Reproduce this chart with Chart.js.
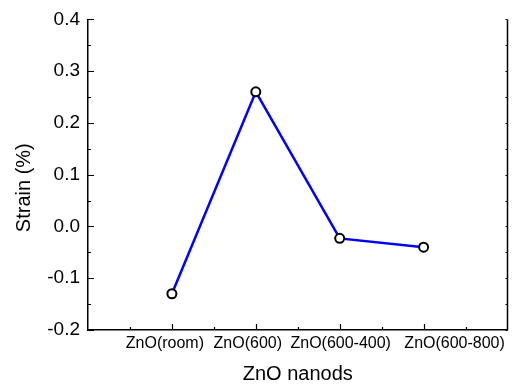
<!DOCTYPE html>
<html>
<head>
<meta charset="utf-8">
<script src="https://cdn.jsdelivr.net/npm/chart.js@4.4.1/dist/chart.umd.min.js"></script>
<style>
  body { margin: 0; background: #fff; }
  #wrap { width: 514px; height: 388px; }
</style>
</head>
<body>
<div id="wrap"><canvas id="chart" width="514" height="388"></canvas></div>
<script>
// categories along x (placed at 1..4 on a 0..5 axis)
const categories = ['ZnO(room)', 'ZnO(600)', 'ZnO(600-400)', 'ZnO(600-800)'];
const strain = [-0.13, 0.26, -0.023, -0.04];
const yTicks = [-0.2, -0.1, 0.0, 0.1, 0.2, 0.3, 0.4];

// the original labels are not quite centred under their ticks
const labelNudge = [-7, -8, 1, 31];

const points = categories.map((c, i) => ({ x: i + 1, y: strain[i] }));
const FONT = '"Liberation Sans", Arial, sans-serif';

// inward tick marks, right frame line, category labels and y title
const frame = {
  id: 'frame',
  afterDraw(chart) {
    const { ctx, chartArea: a, scales: { x, y } } = chart;
    ctx.save();
    ctx.strokeStyle = '#000';
    ctx.lineWidth = 1.2;
    ctx.beginPath();
    y.ticks.forEach(t => {
      const py = Math.round(y.getPixelForValue(t.value)) + 0.5;
      const major = yTicks.some(v => Math.abs(v - t.value) < 1e-6);
      ctx.moveTo(a.left, py);
      ctx.lineTo(a.left + (major ? 6 : 3), py);
      ctx.moveTo(a.right, py);
      ctx.lineTo(a.right - 2, py);
    });
    x.ticks.forEach(t => {
      if (t.value <= 0 || t.value >= 5) return;
      const px = Math.round(x.getPixelForValue(t.value)) + 0.5;
      const major = Number.isInteger(t.value);
      ctx.moveTo(px, a.bottom);
      ctx.lineTo(px, a.bottom - (major ? 6 : 3));
    });
    ctx.stroke();

    ctx.lineWidth = 1.5;
    ctx.beginPath();
    ctx.moveTo(a.right, a.top);
    ctx.lineTo(a.right, a.bottom);
    ctx.stroke();

    // category labels
    ctx.fillStyle = '#000';
    ctx.font = '16px ' + FONT;
    ctx.textAlign = 'center';
    ctx.textBaseline = 'top';
    categories.forEach((c, i) => {
      ctx.fillText(c, x.getPixelForValue(i + 1) + labelNudge[i], a.bottom + 6);
    });

    // y axis title
    ctx.font = '20px ' + FONT;
    ctx.textBaseline = 'middle';
    ctx.translate(24, (a.top + a.bottom) / 2 + 13);
    ctx.rotate(-Math.PI / 2);
    ctx.fillText('Strain (%)', 0, 0);
    ctx.restore();
  }
};

new Chart(document.getElementById('chart'), {
  type: 'line',
  data: {
    datasets: [{
      data: points,
      borderColor: '#0000ff',
      borderWidth: 2.5,
      pointRadius: 4.5,
      pointBorderWidth: 2,
      pointBackgroundColor: '#fff',
      pointBorderColor: '#000',
      tension: 0
    }]
  },
  options: {
    responsive: false,
    animation: false,
    layout: { padding: { top: 18, right: 2, left: 0, bottom: 0 } },
    plugins: { legend: { display: false }, tooltip: { enabled: false } },
    scales: {
      x: {
        type: 'linear',
        min: 0,
        max: 5,
        afterFit: s => { s.height = 58; },
        grid: { display: false, drawTicks: false },
        border: { display: true, color: '#000', width: 1.5 },
        ticks: {
          stepSize: 0.5,
          autoSkip: false,
          maxRotation: 0,
          padding: 4,
          color: '#000',
          font: { family: FONT, size: 16 },
          callback: () => ''
        },
        title: {
          display: true,
          text: 'ZnO nanods',
          color: '#000',
          font: { family: FONT, size: 20 },
          padding: { top: 0, bottom: 2 }
        }
      },
      y: {
        min: -0.2,
        max: 0.4,
        afterFit: s => { s.width = 88; },
        grid: { display: false, drawTicks: false },
        border: { display: true, color: '#000', width: 1.5 },
        ticks: {
          stepSize: 0.05,
          autoSkip: false,
          padding: 8,
          color: '#000',
          font: { family: FONT, size: 19 },
          callback: v => yTicks.some(t => Math.abs(t - v) < 1e-6) ? v.toFixed(1) : ''
        }
      }
    }
  },
  plugins: [frame]
});
</script>
</body>
</html>
